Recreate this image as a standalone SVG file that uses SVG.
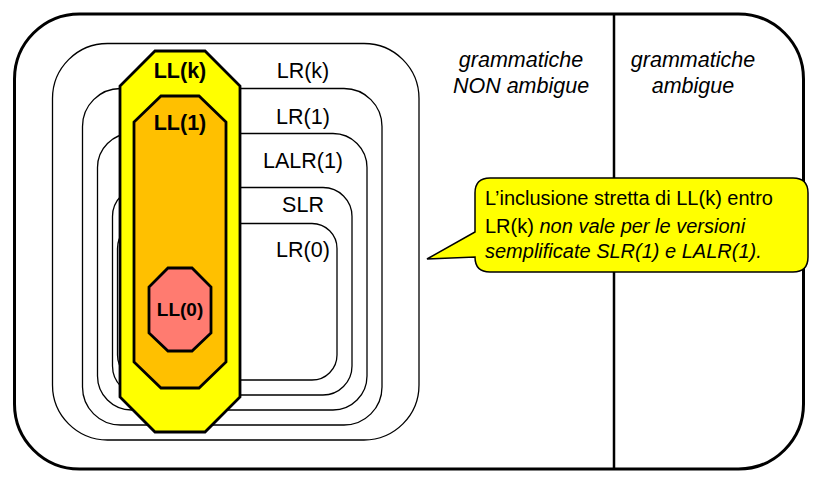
<svg xmlns="http://www.w3.org/2000/svg" width="820" height="482" viewBox="0 0 820 482">
<style>
.set{fill:none;stroke:#000;stroke-width:1.3}
.ll{stroke:#000;stroke-width:2.8;stroke-linejoin:miter}
text{font-family:"Liberation Sans",Arial,Helvetica,sans-serif;fill:#000}
.lbl{font-size:21.5px;text-anchor:middle}
.llt{font-size:21.5px;font-weight:bold;text-anchor:middle}
.it{font-style:italic}
.cap{font-size:21.5px;font-style:italic;text-anchor:middle}
.note{font-size:20px}
</style>
<rect width="820" height="482" fill="#fff"/>
<g id="universe">
<rect x="14.5" y="14" width="789" height="455" rx="65" ry="65" fill="none" stroke="#000" stroke-width="3"/>
<line x1="614" y1="14" x2="614" y2="469" stroke="#000" stroke-width="2.5"/>
</g>
<g id="non-ambigue-label">
<text class="cap" x="521" y="67">grammatiche</text>
<text class="cap" x="521" y="93">NON ambigue</text>
</g>
<g id="ambigue-label">
<text class="cap" x="693" y="67">grammatiche</text>
<text class="cap" x="693" y="93">ambigue</text>
</g>
<g id="LRk">
<rect class="set" x="52.5" y="43.5" width="366.5" height="396.5" rx="55" ry="55"/>
<text class="lbl" x="303" y="78">LR(k)</text>
</g>
<g id="LR1">
<rect class="set" x="82.5" y="88.5" width="299.5" height="336.5" rx="38" ry="38"/>
<text class="lbl" x="303" y="124">LR(1)</text>
</g>
<g id="LALR1">
<rect class="set" x="97.5" y="133.5" width="269.5" height="276.5" rx="34" ry="34"/>
<text class="lbl" x="303" y="168">LALR(1)</text>
</g>
<g id="SLR">
<rect class="set" x="112.5" y="187.5" width="239.5" height="207.5" rx="29" ry="29"/>
<text class="lbl" x="303" y="212">SLR</text>
</g>
<g id="LR0">
<rect class="set" x="117.5" y="223.5" width="219.5" height="156.5" rx="25" ry="25"/>
<text class="lbl" x="303" y="257">LR(0)</text>
</g>
<g id="LLk">
<polygon class="ll" fill="#FFFF00" points="155,51 205,51 240,86 240,397 205,432 155,432 120,397 120,86"/>
<text class="llt" x="180" y="78">LL(k)</text>
</g>
<g id="LL1">
<polygon class="ll" fill="#FFC000" points="161,96 199,96 226,122 226,362 199,388 161,388 134,362 134,122"/>
<text class="llt" x="180" y="130">LL(1)</text>
</g>
<g id="LL0">
<polygon class="ll" fill="#FF7B70" points="168,268 192,268 211,287 211,333 192,351 168,351 149,333 149,287"/>
<text class="llt" x="180" y="316" style="font-size:19px">LL(0)</text>
</g>
<g id="callout">
<path d="M490,178 H793 Q808,178 808,193 V257 Q808,272 793,272 H490 Q475,272 475,257 L427,259 L475,232 V193 Q475,178 490,178 Z" fill="#FFFF00" stroke="#000" stroke-width="1.5" stroke-linejoin="miter"/>
<text class="note" x="485" y="205">L’inclusione stretta di LL(k) entro</text>
<text class="note" x="485" y="233">LR(k) <tspan class="it">non vale per le versioni</tspan></text>
<text class="note it" x="485" y="258">semplificate SLR(1) e LALR(1).</text>
</g>
</svg>
